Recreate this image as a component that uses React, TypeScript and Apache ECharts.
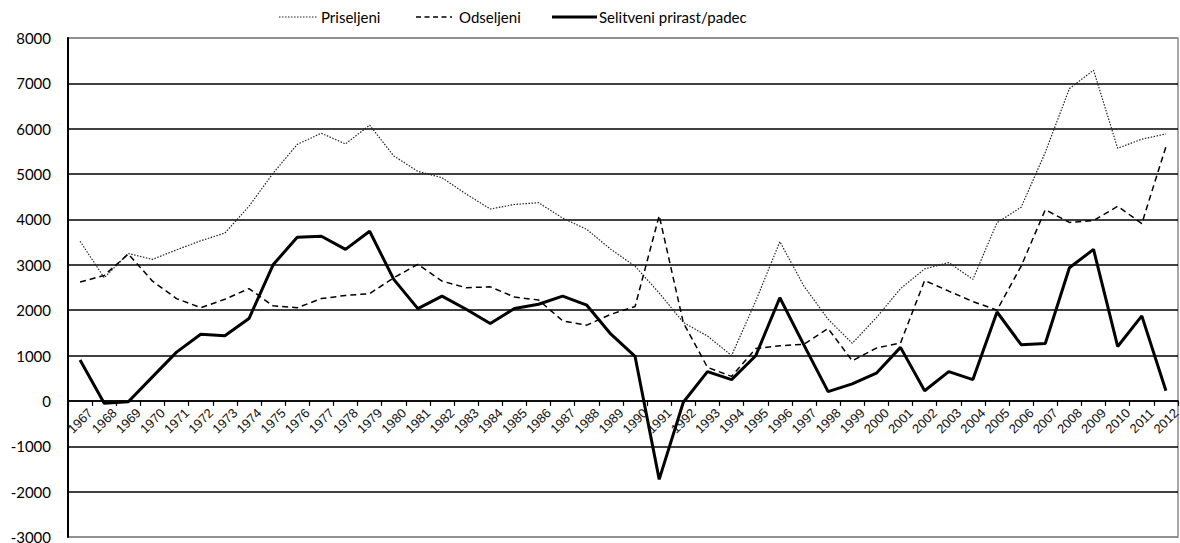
import React, { useEffect, useRef } from "react";
import * as echarts from "echarts";

const years = [
  "1967","1968","1969","1970","1971","1972","1973","1974","1975","1976",
  "1977","1978","1979","1980","1981","1982","1983","1984","1985","1986",
  "1987","1988","1989","1990","1991","1992","1993","1994","1995","1996",
  "1997","1998","1999","2000","2001","2002","2003","2004","2005","2006",
  "2007","2008","2009","2010","2011","2012",
];

const priseljeni = [
  3520, 2715, 3250, 3120, 3330, 3530, 3700, 4290, 5020, 5655,
  5900, 5665, 6080, 5400, 5060, 4920, 4560, 4230, 4330, 4370,
  4030, 3780, 3340, 2970, 2380, 1730, 1430, 1000, 2200, 3510,
  2530, 1800, 1270, 1835, 2475, 2910, 3050, 2680, 3930, 4270,
  5480, 6885, 7290, 5570, 5770, 5885,
];

const odseljeni = [
  2620, 2765, 3240, 2640, 2255, 2055, 2240, 2475, 2095, 2055,
  2255, 2325, 2365, 2715, 3010, 2640, 2495, 2515, 2290, 2225,
  1765, 1670, 1910, 2080, 4085, 1725, 740, 540, 1155, 1215,
  1250, 1595, 885, 1165, 1275, 2655, 2420, 2190, 2000, 2970,
  4215, 3935, 3975, 4290, 3910, 5605,
];

const prirast = [
  900, -50, -20, 530, 1075, 1470, 1435, 1815, 3000, 3610,
  3630, 3340, 3740, 2680, 2035, 2310, 2020, 1705, 2035, 2130,
  2310, 2110, 1470, 980, -1730, -30, 645, 470, 995, 2275,
  1230, 205, 375, 610, 1180, 225, 645, 470, 1960, 1240,
  1265, 2935, 3340, 1200, 1875, 225,
];

const seriesNames = ["Priseljeni", "Odseljeni", "Selitveni prirast/padec"];

const yMin = -3000;
const yMax = 8000;
const yStep = 1000;

const CHART_W = 1180;
const CHART_H = 543;
const GRID_TOP = 38;
const GRID_BOTTOM = 6;

export default function App() {
  const ref = useRef<HTMLDivElement>(null);

  useEffect(() => {
    if (!ref.current) return;
    const chart = echarts.init(ref.current, null, { renderer: "svg" });
    const splitColors = ["#8a8a8a"];
    for (let i = 0; i < 10; i++) splitColors.push("#000");

    // place the category axis on the zero line of the value axis
    const plotH = CHART_H - GRID_TOP - GRID_BOTTOM;
    const zeroOffset = -((0 - yMin) / (yMax - yMin)) * plotH;

    const legendY = 17;
    const legendFont = "15px Lato, sans-serif";
    const legendItems = [
      { x1: 279, x2: 318, tx: 321, style: { stroke: "#222", lineWidth: 1.2, lineDash: [1.5, 1.5] } },
      { x1: 416, x2: 452, tx: 459, style: { stroke: "#000", lineWidth: 1.5, lineDash: [5, 3.5] } },
      { x1: 552, x2: 597, tx: 599, style: { stroke: "#000", lineWidth: 3 } },
    ];
    const graphics: any[] = [];
    legendItems.forEach((it, i) => {
      graphics.push({
        type: "line",
        shape: { x1: it.x1, y1: legendY, x2: it.x2, y2: legendY },
        style: it.style,
      });
      graphics.push({
        type: "text",
        x: it.tx,
        y: legendY,
        style: {
          text: seriesNames[i],
          font: legendFont,
          fill: "#000",
          textAlign: "left",
          textVerticalAlign: "middle",
        },
      });
    });

    chart.setOption({
      animation: false,
      backgroundColor: "#fff",
      textStyle: { fontFamily: "Lato, 'Open Sans', sans-serif" },
      graphic: graphics,
      grid: {
        left: 68,
        right: 2,
        top: GRID_TOP,
        bottom: GRID_BOTTOM,
        show: true,
        borderColor: "#8a8a8a",
        borderWidth: 1.5,
        containLabel: false,
        outerBoundsMode: "none",
      },
      xAxis: {
        type: "category",
        data: years,
        boundaryGap: true,
        position: "bottom",
        offset: zeroOffset,
        axisLine: { onZero: false, lineStyle: { color: "#000", width: 1.5 } },
        axisTick: { show: true, length: 5, lineStyle: { color: "#000", width: 1.2 } },
        axisLabel: {
          rotate: 45,
          interval: 0,
          fontSize: 13,
          color: "#111",
          fontFamily: "'Liberation Sans', Arial, sans-serif",
          align: "center",
          verticalAlign: "middle",
          margin: 20,
        },
        splitLine: { show: false },
      },
      yAxis: {
        type: "value",
        min: yMin,
        max: yMax,
        interval: yStep,
        axisLine: { show: true, lineStyle: { color: "#000", width: 2 } },
        axisTick: { show: false },
        axisLabel: {
          fontSize: 15,
          color: "#000",
          margin: 17,
          fontFamily: "Lato, sans-serif",
          formatter: (v: number) => String(v),
        },
        splitLine: { show: true, lineStyle: { color: splitColors, width: 1.5 } },
      },
      series: [
        {
          name: seriesNames[0],
          type: "line",
          data: priseljeni,
          showSymbol: false,
          symbol: "none",
          lineStyle: { color: "#222", width: 1.2, type: [1.5, 1.5] },
          itemStyle: { color: "#222" },
        },
        {
          name: seriesNames[1],
          type: "line",
          data: odseljeni,
          showSymbol: false,
          symbol: "none",
          lineStyle: { color: "#000", width: 1.5, type: [6, 4] },
          itemStyle: { color: "#000" },
        },
        {
          name: seriesNames[2],
          type: "line",
          data: prirast,
          showSymbol: false,
          symbol: "none",
          lineStyle: { color: "#000", width: 3 },
          itemStyle: { color: "#000" },
          z: 3,
        },
      ],
    });
    return () => chart.dispose();
  }, []);

  return (
    <div
      ref={ref}
      style={{ position: "fixed", left: 0, top: 0, width: CHART_W, height: CHART_H }}
    />
  );
}
